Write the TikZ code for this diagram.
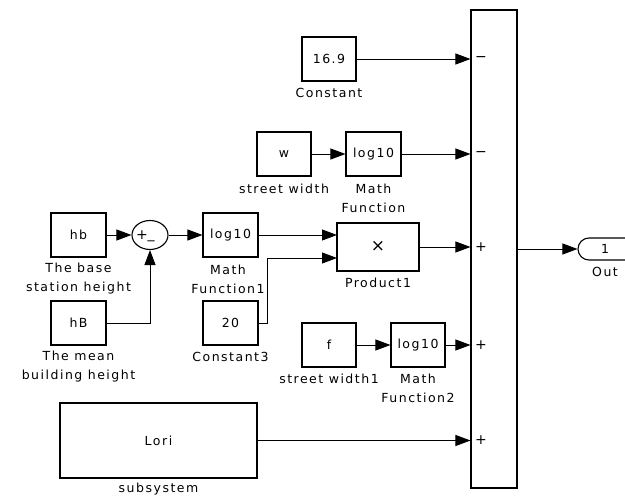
\documentclass[tikz,border=0pt]{standalone}
\usepackage{fontspec}
\setmainfont[LetterSpace=12]{DejaVu Sans}
\usetikzlibrary{arrows.meta,shapes.geometric,shapes.misc}
\begin{document}
\begin{tikzpicture}[x=1pt,y=-1pt,
  font=\fontsize{12.5}{19}\selectfont,
  blk/.style={draw,line width=1.1pt,inner sep=0pt,minimum height=44pt,minimum width=55pt},
  captxt/.style={align=center,inner sep=0pt},
  wire/.style={line width=0.9pt},
  arr/.style={wire,-{Triangle[length=15pt,width=11pt]}},
  sgn/.style={inner sep=0pt,font=\fontsize{14}{14}\selectfont}]
\useasboundingbox (0,0) rectangle (625,498);

% blocks
\node[blk,minimum width=54pt] (c169) at (329,59) {16.9};
\node[captxt] (c169cap) at (329,93) {Constant};

\node[blk,minimum width=54pt] (w) at (284,154) {w};
\node[captxt] (wcap) at (284,189) {street width};
\node[blk] (mf) at (373.5,154) {log10};
\node[captxt] (mfcap) at (373.5,198) {Math\\Function};

\node[blk] (hb) at (78.5,235) {hb};
\node[captxt] (hbcap) at (78.5,279) {The base\\station height};
\node[blk] (hB) at (78.5,323) {hB};
\node[captxt] (hBcap) at (78.5,367) {The mean\\building height};

\node[draw,ellipse,line width=1.1pt,minimum width=36pt,minimum height=29pt,inner sep=0pt] (circ) at (150,235) {};
\node[sgn] (cplus) at (142,235) {+};
\node[sgn] (cminus) at (151,240) {\_};

\node[blk] (mf1) at (230.5,235) {log10};
\node[captxt] (mf1cap) at (228,279) {Math\\Function1};
\node[blk] (c3) at (230.5,323) {20};
\node[captxt] (c3cap) at (230.5,357) {Constant3};

\node[blk,minimum width=82pt,minimum height=48pt] (prod) at (378,247) {};
\node[font=\fontsize{17}{17}\selectfont,inner sep=0pt] (prodx) at (378,246) {×};
\node[captxt] (prodcap) at (378,283) {Product1};

\node[blk,minimum width=54pt] (f) at (329,345) {f};
\node[captxt] (fcap) at (329,379) {street width1};
\node[blk,minimum width=54pt] (mf2) at (418,345) {log10};
\node[captxt] (mf2cap) at (418,388) {Math\\Function2};

\node[blk,minimum width=197pt,minimum height=75pt] (lori) at (158.5,440.5) {Lori};
\node[captxt] (loricap) at (158.5,489) {subsystem};

\node[draw,line width=1.1pt,inner sep=0pt,minimum width=46pt,minimum height=478pt] (sum) at (494,249) {};

\node[draw,line width=1.1pt,rounded rectangle,rounded rectangle right arc=none,minimum width=62pt,minimum height=22pt,inner sep=0pt] (out) at (609,249) {};
\node[inner sep=0pt] (outnum) at (605,249) {1};
\node[captxt] (outcap) at (605,272) {Out};

% sum port coordinates and signs
\coordinate (s1) at (sum.west |- c169.east);
\coordinate (s2) at (sum.west |- mf.east);
\coordinate (s3) at (sum.west |- prod.east);
\coordinate (s4) at (sum.west |- mf2.east);
\coordinate (s5) at (sum.west |- lori.east);
\node[sgn] (g1) at (481,59) {−};
\node[sgn] (g2) at (481,154) {−};
\node[sgn] (g3) at (481,247) {+};
\node[sgn] (g4) at (481,345) {+};
\node[sgn] (g5) at (481,440.5) {+};

\coordinate (p1) at (337,235);
\coordinate (p2) at (337,258);

% connectors
\draw[arr] (c169.east) -- (s1);
\draw[arr] (w.east) -- (mf.west);
\draw[arr] (mf.east) -- (s2);
\draw[arr] (hb.east) -- (circ.west);
\draw[arr] (hB.east) -| (circ.south);
\draw[arr] (circ.east) -- (mf1.west);
\draw[arr] (mf1.east) -- (p1);
\draw[arr] (c3.east) -- ++(9,0) |- (p2);
\draw[arr] (prod.east) -- (s3);
\draw[arr] (f.east) -- (mf2.west);
\draw[arr] (mf2.east) -- (s4);
\draw[arr] (lori.east) -- (s5);
\draw[arr] (sum.east) -- (out.west);
\end{tikzpicture}
\end{document}
